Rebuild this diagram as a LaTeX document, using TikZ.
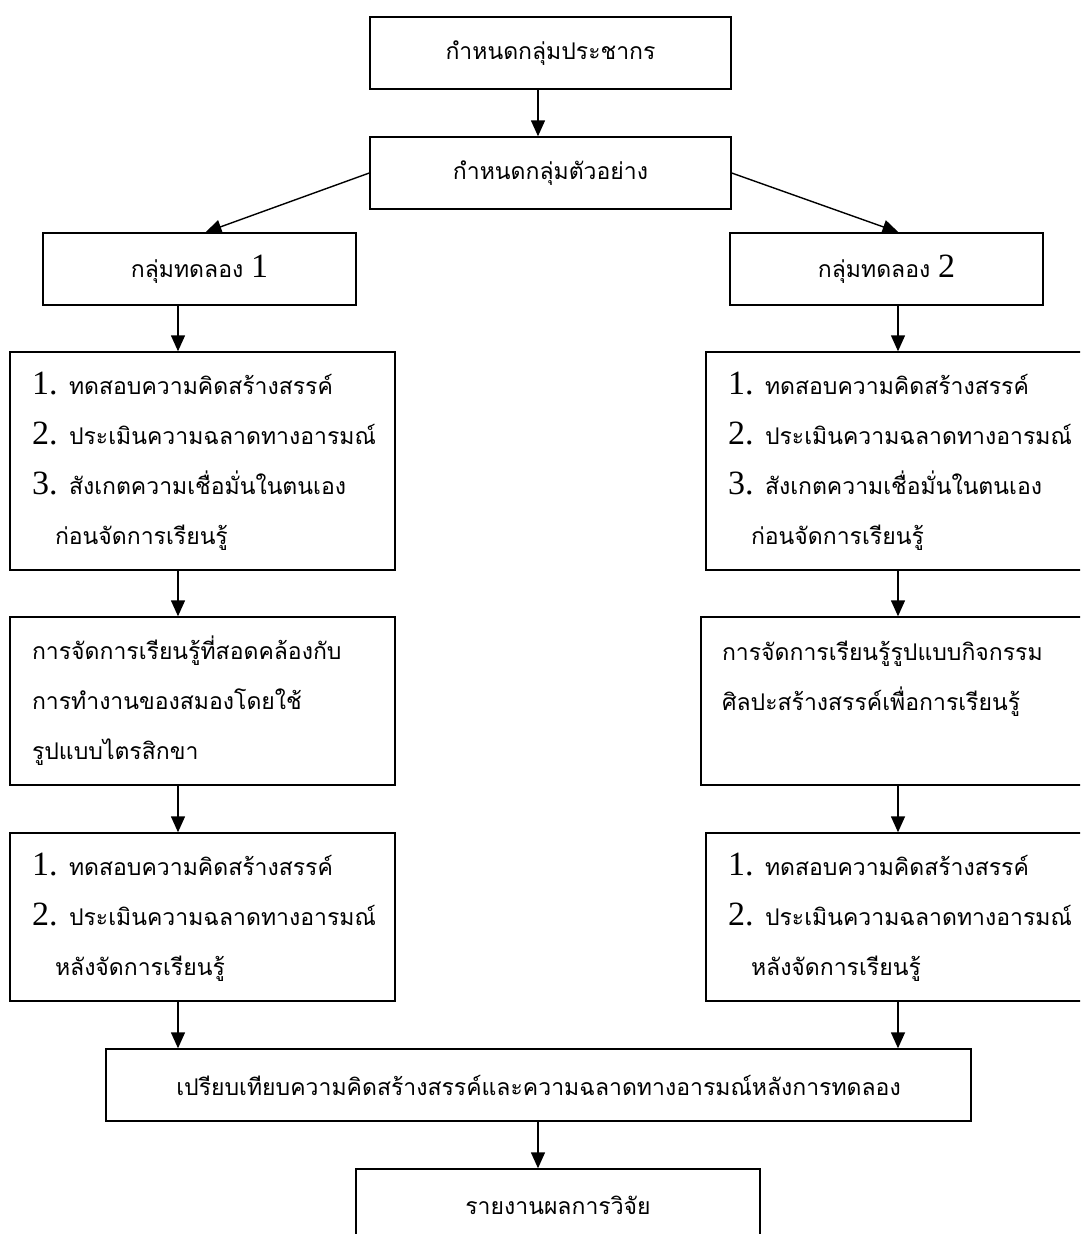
\documentclass[tikz,border=0pt]{standalone}
\usepackage{fontspec}
\setmainfont[Script=Thai]{Loma}
\newfontfamily\numfont{Liberation Serif}
\usetikzlibrary{arrows.meta}
\newcommand\nm[1]{{\numfont\fontsize{34}{50}\selectfont #1}}

\begin{document}
\begin{tikzpicture}[x=1pt,y=-1pt,
  box/.style={draw,line width=1.4pt,inner sep=0pt,minimum height=72pt},
  textbox/.style={draw,line width=1.4pt,inner sep=0pt,align=left,text width=#1},
  arr/.style={line width=1.4pt,-{Triangle[length=16pt,width=14pt]}},
  font=\fontsize{23}{50}\selectfont]
\clip (0,0) rectangle (1080,1234);
\fill[white] (0,0) rectangle (1080,1234);
% top
\node[box,minimum width=361pt,font=\fontsize{23}{26}\selectfont] (pop) at (550.5,53) {กำหนดกลุ่มประชากร};
\node[box,minimum width=361pt,font=\fontsize{23}{26}\selectfont] (samp) at (550.5,173) {กำหนดกลุ่มตัวอย่าง};
\node[box,minimum width=313pt] (g1) at (199.5,269) {กลุ่มทดลอง \nm{1}};
\node[box,minimum width=313pt] (g2) at (886.5,269) {กลุ่มทดลอง \nm{2}};
% left column
\node[textbox=341pt,minimum width=385pt,minimum height=218pt] (pre1) at (202.5,461)
  {\mbox{\nm{1.} ทดสอบความคิดสร้างสรรค์}\\\mbox{\nm{2.} ประเมินความฉลาดทางอารมณ์}\\\mbox{\nm{3.} สังเกตความเชื่อมั่นในตนเอง}\\\hspace*{23pt}ก่อนจัดการเรียนรู้};
\node[textbox=341pt,minimum width=385pt,minimum height=168pt] (act1) at (202.5,701)
  {การจัดการเรียนรู้ที่สอดคล้องกับ\\การทำงานของสมองโดยใช้\\รูปแบบไตรสิกขา};
\node[textbox=341pt,minimum width=385pt,minimum height=168pt] (post1) at (202.5,917)
  {\mbox{\nm{1.} ทดสอบความคิดสร้างสรรค์}\\\mbox{\nm{2.} ประเมินความฉลาดทางอารมณ์}\\\hspace*{23pt}หลังจัดการเรียนรู้};
% right column (runs past the page edge)
\node[textbox=364pt,minimum width=408pt,minimum height=218pt] (pre2) at (910,461)
  {\mbox{\nm{1.} ทดสอบความคิดสร้างสรรค์}\\\mbox{\nm{2.} ประเมินความฉลาดทางอารมณ์}\\\mbox{\nm{3.} สังเกตความเชื่อมั่นในตนเอง}\\\hspace*{23pt}ก่อนจัดการเรียนรู้};
\node[textbox=372pt,minimum width=414pt,minimum height=168pt] (act2) at (908,701)
  {การจัดการเรียนรู้รูปแบบกิจกรรม\\ศิลปะสร้างสรรค์เพื่อการเรียนรู้\\\mbox{}};
\node[textbox=364pt,minimum width=408pt,minimum height=168pt] (post2) at (910,917)
  {\mbox{\nm{1.} ทดสอบความคิดสร้างสรรค์}\\\mbox{\nm{2.} ประเมินความฉลาดทางอารมณ์}\\\hspace*{23pt}หลังจัดการเรียนรู้};
% bottom
\node[box,minimum width=865pt,font=\fontsize{23}{26}\selectfont] (comp) at (538.5,1085) {เปรียบเทียบความคิดสร้างสรรค์และความฉลาดทางอารมณ์หลังการทดลอง};
\node[box,minimum width=404pt,font=\fontsize{23}{26}\selectfont] (rep) at (558,1205) {รายงานผลการวิจัย};
\coordinate (colL) at (178,0);
\coordinate (colR) at (898,0);
\coordinate (mid) at (538,0);
% arrows
\draw[arr] (pop.south -| mid) -- (samp.north -| mid);
\draw[arr] (samp.west) -- ([xshift=6pt]g1.north);
\draw[arr] (samp.east) -- ([xshift=12pt]g2.north);
\draw[arr] (g1.south -| colL) -- (pre1.north -| colL);
\draw[arr] (pre1.south -| colL) -- (act1.north -| colL);
\draw[arr] (act1.south -| colL) -- (post1.north -| colL);
\draw[arr] (post1.south -| colL) -- (comp.north -| colL);
\draw[arr] (g2.south -| colR) -- (pre2.north -| colR);
\draw[arr] (pre2.south -| colR) -- (act2.north -| colR);
\draw[arr] (act2.south -| colR) -- (post2.north -| colR);
\draw[arr] (post2.south -| colR) -- (comp.north -| colR);
\draw[arr] (comp.south -| mid) -- (rep.north -| mid);
\end{tikzpicture}
\end{document}
